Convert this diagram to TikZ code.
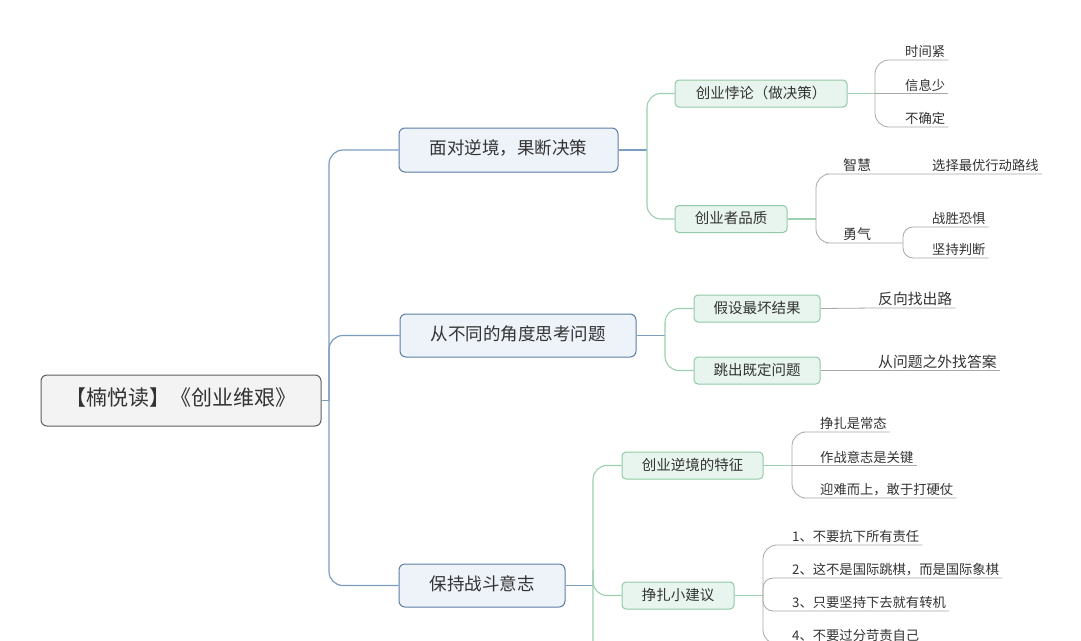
\documentclass[tikz,border=0pt]{standalone}
\usepackage{fontspec}
\newfontfamily\cjk{Noto Sans CJK SC}
\definecolor{rootfill}{HTML}{F3F3F3}
\definecolor{rootdraw}{HTML}{5E5E5E}
\definecolor{bluefill}{HTML}{EEF3FA}
\definecolor{bluedraw}{HTML}{5B7DA6}
\definecolor{bluelinec}{HTML}{7C9DBF}
\definecolor{greenfill}{HTML}{E8F5EE}
\definecolor{greendraw}{HTML}{92C9A6}
\definecolor{greenlinec}{HTML}{9CD0B0}
\definecolor{leaflinec}{HTML}{A8A8A8}
\definecolor{textdark}{HTML}{333333}
\tikzset{
  box/.style={rounded corners=6pt, line width=1pt, align=center, inner sep=0pt,
    text height=1.05em, text depth=0.1em, text=textdark},
  rootbox/.style={box, draw=rootdraw, fill=rootfill, font=\cjk\fontsize{21}{21}\selectfont},
  lonebox/.style={box, draw=bluedraw, fill=bluefill, font=\cjk\fontsize{17.5}{17.5}\selectfont},
  ltwobox/.style={box, rounded corners=4pt, draw=greendraw, fill=greenfill,
    minimum height=27pt, font=\cjk\fontsize{14.5}{14.5}\selectfont},
  leaf/.style={anchor=south west, inner xsep=3pt, inner ysep=2pt, text height=11pt,
    text depth=1pt, text=textdark, font=\cjk\fontsize{13.3}{13.3}\selectfont},
  midleaf/.style={leaf, font=\cjk\fontsize{14}{14}\selectfont},
  bigleaf/.style={leaf, text height=12pt, font=\cjk\fontsize{14.8}{14.8}\selectfont},
  bline/.style={draw=bluelinec, line width=1.2pt},
  gnline/.style={draw=greenlinec, line width=1.1pt},
  lfline/.style={draw=leaflinec, line width=0.8pt},
}
\begin{document}
\begin{tikzpicture}[x=1pt,y=-1pt]
\clip (0,0) rectangle (1081,640);
\fill[white] (0,0) rectangle (1081,640);

% main nodes
\node[rootbox, minimum width=280pt, minimum height=51pt] (root) at (181,400.5) {【楠悦读】《创业维艰》};
\node[lonebox, minimum width=219pt, minimum height=44pt] (A1) at (508.5,150) {面对逆境，果断决策};
\node[lonebox, minimum width=236pt, minimum height=43pt] (A2) at (518,335.5) {从不同的角度思考问题};
\node[lonebox, minimum width=166pt, minimum height=43pt] (A3) at (482,585.5) {保持战斗意志};

\node[ltwobox, minimum width=172pt] (B1) at (761,93.5) {创业悖论（做决策）};
\node[ltwobox, minimum width=112pt] (B2) at (731,219) {创业者品质};
\node[ltwobox, minimum width=126pt] (B3) at (757,308.5) {假设最坏结果};
\node[ltwobox, minimum width=126pt] (B4) at (757,370.5) {跳出既定问题};
\node[ltwobox, minimum width=141pt] (B5) at (692.5,465.5) {创业逆境的特征};
\node[ltwobox, minimum width=112pt] (B6) at (678,595.5) {挣扎小建议};

% leaves
\node[leaf] (C1) at (902,60) {时间紧};
\node[leaf] (C2) at (902,93.5) {信息少};
\node[leaf] (C3) at (902,127) {不确定};
\node[midleaf] (C4) at (840,174) {智慧};
\node[leaf] (C5) at (929,174) {选择最优行动路线};
\node[midleaf] (C6) at (840,243) {勇气};
\node[leaf] (C7) at (929,227) {战胜恐惧};
\node[leaf] (C8) at (929,258) {坚持判断};
\node[bigleaf] (C9) at (875,308) {反向找出路};
\node[bigleaf] (C10) at (875,370.5) {从问题之外找答案};
\node[leaf] (C11) at (817,432) {挣扎是常态};
\node[leaf] (C12) at (817,465.5) {作战意志是关键};
\node[leaf] (C13) at (817,498) {迎难而上，敢于打硬仗};
\node[leaf] (C14) at (789,545) {1、不要抗下所有责任};
\node[leaf] (C15) at (789,578) {2、这不是国际跳棋，而是国际象棋};
\node[leaf] (C16) at (789,611) {3、只要坚持下去就有转机};
\node[leaf] (C17) at (789,644) {4、不要过分苛责自己};

% junction coordinates
\coordinate (T) at (329,400.5);
\coordinate (G1) at (647,150);
\coordinate (G2) at (665,335.5);
\coordinate (G3) at (593,585.5);
\coordinate (G3b) at (593,570);
\coordinate (G3end) at (593,700);
\coordinate (J1) at (875,93.5);
\coordinate (J2) at (816,219);
\coordinate (J3) at (903,243);
\coordinate (J5) at (792,465.5);
\coordinate (J6) at (763,595.5);

% blue trunk
\draw[bline] (root.east) -- (T);
\draw[bline, rounded corners=14pt] (A1.west) -- (A1.west -| T) -- (A3.west -| T) -- (A3.west);
\draw[bline, rounded corners=14pt] (T) -- (A2.west -| T) -- (A2.west);

% second level
\draw[bline] (A1.east) -- (G1);
\draw[gnline, rounded corners=14pt] (B1.west) -- (B1.west -| G1) -- (B2.west -| G1) -- (B2.west);
\draw[bline] (A2.east) -- (G2);
\draw[gnline, rounded corners=14pt] (B3.west) -- (B3.west -| G2) -- (B4.west -| G2) -- (B4.west);
\draw[bline] (A3.east) -- (G3);
\draw[gnline, rounded corners=14pt] (B5.west) -- (B5.west -| G3) -- (G3end);
\draw[gnline, rounded corners=14pt] (G3b) -- (B6.west -| G3) -- (B6.west);

% leaves of B1
\draw[gnline] (B1.east) -- (J1);
\draw[lfline, rounded corners=14pt] (J1) -- (C1.south west -| J1) -- (C1.south west) -- (C1.south east);
\draw[lfline] (J1) -- (C2.south west) -- (C2.south east);
\draw[lfline, rounded corners=14pt] (J1) -- (C3.south west -| J1) -- (C3.south west) -- (C3.south east);

% leaves of B2
\draw[gnline] (B2.east) -- (J2);
\draw[lfline, rounded corners=14pt] (J2) -- (C4.south west -| J2) -- (C4.south west) -- (C5.south west) -- (C5.south east);
\draw[lfline, rounded corners=14pt] (J2) -- (C6.south west -| J2) -- (C6.south west) -- (J3);
\draw[lfline, rounded corners=10pt] (J3) -- (C7.south west -| J3) -- (C7.south west) -- (C7.south east);
\draw[lfline, rounded corners=10pt] (J3) -- (C8.south west -| J3) -- (C8.south west) -- (C8.south east);

% leaves of B3, B4
\draw[lfline] (B3.east) -- (C9.south west) -- (C9.south east);
\draw[lfline] (B4.east) -- (C10.south west) -- (C10.south east);

% leaves of B5
\draw[gnline] (B5.east) -- (J5);
\draw[lfline, rounded corners=14pt] (J5) -- (C11.south west -| J5) -- (C11.south west) -- (C11.south east);
\draw[lfline] (J5) -- (C12.south west) -- (C12.south east);
\draw[lfline, rounded corners=14pt] (J5) -- (C13.south west -| J5) -- (C13.south west) -- (C13.south east);

% leaves of B6
\draw[gnline] (B6.east) -- (J6);
\draw[lfline, rounded corners=14pt] (J6) -- (C14.south west -| J6) -- (C14.south west) -- (C14.south east);
\draw[lfline, rounded corners=10pt] (J6) -- (C15.south west -| J6) -- (C15.south west) -- (C15.south east);
\draw[lfline, rounded corners=10pt] (J6) -- (C16.south west -| J6) -- (C16.south west) -- (C16.south east);
\draw[lfline, rounded corners=14pt] (J6) -- (C17.south west -| J6) -- (C17.south west) -- (C17.south east);
\end{tikzpicture}
\end{document}
